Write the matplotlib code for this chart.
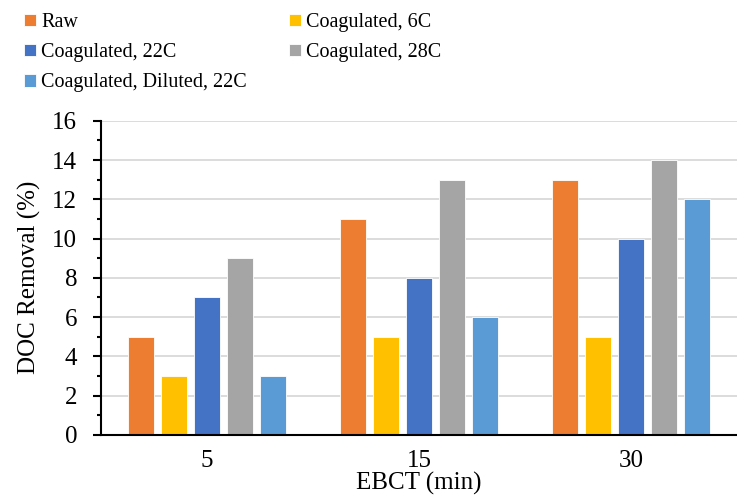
import numpy as np
import matplotlib.pyplot as plt

# Data
ebct = ["5", "15", "30"]
series_names = ["Raw", "Coagulated, 6C", "Coagulated, 22C", "Coagulated, 28C",
                "Coagulated, Diluted, 22C"]
raw = [5, 11, 13]
coag_6c = [3, 5, 5]
coag_22c = [7, 8, 10]
coag_28c = [9, 13, 14]
coag_dil_22c = [3, 6, 12]
colors = ["#ED7D31", "#FFC000", "#4472C4", "#A5A5A5", "#5B9BD5"]

plt.rcParams['font.family'] = ['Liberation Serif', 'DejaVu Serif']

fig = plt.figure(figsize=(7.37, 5.01), dpi=100)
ax = fig.add_axes([0.137, 0.132, 0.863, 0.627])

x = np.arange(len(ebct))
slot = 0.156
bar_w = 0.122
handles = {}
for i, (name, vals) in enumerate(zip(series_names, [raw, coag_6c, coag_22c, coag_28c, coag_dil_22c])):
    offs = (i - 2) * slot
    b = ax.bar(x + offs, vals, width=bar_w, color=colors[i], edgecolor="white",
               linewidth=0.6, zorder=3, label=name)
    handles[name] = b

ax.set_xlim(-0.5, 2.5)
ax.set_ylim(0, 16)
ax.set_xticks(x)
ax.set_xticklabels(ebct, fontsize=18)
ax.set_yticks(np.arange(0, 17, 2))
ax.set_yticks(np.arange(1, 16, 2), minor=True)
ax.tick_params(axis='y', which='major', direction='out', length=6, width=1.5, labelsize=18, pad=11)
ax.tick_params(axis='y', which='minor', direction='out', length=3, width=1.5)
ax.tick_params(axis='x', length=0, pad=11)
ax.grid(axis='y', which='major', color="#D9D9D9", linewidth=1.3, zorder=0)
ax.set_axisbelow(True)
for s in ['top', 'right']:
    ax.spines[s].set_visible(False)
ax.spines['left'].set_linewidth(1.5)
ax.spines['bottom'].set_linewidth(1.5)
ax.spines['bottom'].set_zorder(4)

ax.set_ylabel("DOC Removal (%)", fontsize=18, labelpad=8)
ax.set_xlabel("EBCT (min)", fontsize=18, labelpad=0)

# legend filled column-wise so rows read Raw / 6C, 22C / 28C, Diluted
order = ["Raw", "Coagulated, 22C", "Coagulated, Diluted, 22C", "Coagulated, 6C", "Coagulated, 28C"]
fig.legend([handles[n] for n in order], order, ncol=2, loc='upper left',
           bbox_to_anchor=(0.008, 1.01), frameon=False, fontsize=14.5,
           handlelength=0.6, handleheight=0.6, handletextpad=0.25,
           columnspacing=2.1, labelspacing=0.55)

fig.savefig("out.png", dpi=100)
